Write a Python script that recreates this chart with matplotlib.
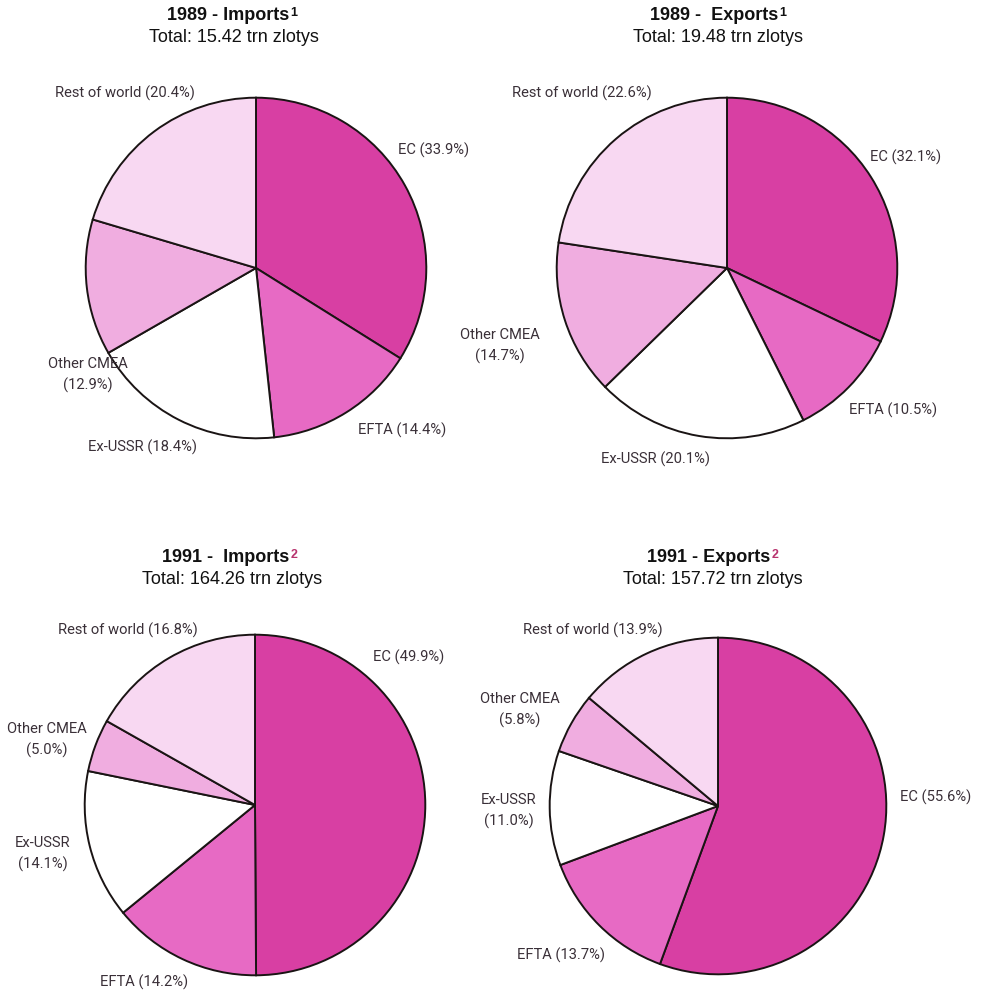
import matplotlib
matplotlib.use("Agg")
import matplotlib.pyplot as plt

# trade shares by partner group, clockwise from 12 o'clock
partners = ["EC", "EFTA", "Ex-USSR", "Other CMEA", "Rest of world"]
imports_1989 = [33.9, 14.4, 18.4, 12.9, 20.4]
exports_1989 = [32.1, 10.5, 20.1, 14.7, 22.6]
imports_1991 = [49.9, 14.2, 14.1, 5.0, 16.8]
exports_1991 = [55.6, 13.7, 11.0, 5.8, 13.9]

titles = ["1989 - Imports", "1989 -  Exports", "1991 -  Imports", "1991 - Exports"]
notes = ["1", "1", "2", "2"]
totals = ["Total: 15.42 trn zlotys", "Total: 19.48 trn zlotys",
          "Total: 164.26 trn zlotys", "Total: 157.72 trn zlotys"]

colours = ["#d83fa3", "#e76ac4", "#ffffff", "#f0ade0", "#f8d8f2"]
note_colours = ["#111111", "#111111", "#b8336e", "#b8336e"]

W, H = 992, 994
fig = plt.figure(figsize=(W / 100, H / 100), dpi=100)
fig.patch.set_facecolor("white")

label_font = ["Roboto", "DejaVu Sans"]
title_font = ["Liberation Sans", "DejaVu Sans"]
label_col = "#3a3038"

# pie centre / radius in pixels
pies = [(256, 268, 172), (727, 268, 172), (255, 805, 172), (718, 806, 170)]
title_x = [228, 714, 226, 709]
title_y = [15, 15, 557, 557]
total_x = [234, 718, 232, 713]

# label anchors (pixel x, pixel y, ha) per pie, in partner order
label_pos = [
    [(398, 150, "left"), (358, 430, "left"), (88, 447, "left"), (88, 375, "center"), (55, 93, "left")],
    [(870, 157, "left"), (849, 410, "left"), (601, 459, "left"), (500, 346, "center"), (512, 93, "left")],
    [(373, 657, "left"), (100, 982, "left"), (43, 854, "center"), (47, 740, "center"), (58, 630, "left")],
    [(900, 797, "left"), (517, 955, "left"), (509, 811, "center"), (520, 710, "center"), (523, 630, "left")],
]
two_line = [
    [False, False, False, True, False],
    [False, False, False, True, False],
    [False, False, True, True, False],
    [False, False, True, True, False],
]


def px(x, y):
    return x / W, 1 - y / H


for i, values in enumerate([imports_1989, exports_1989, imports_1991, exports_1991]):
    cx, cy, r = pies[i]
    ax = fig.add_axes([(cx - r) / W, 1 - (cy + r) / H, 2 * r / W, 2 * r / H])
    ax.pie(values, colors=colours, startangle=90, counterclock=False,
           wedgeprops=dict(edgecolor="#1a1414", linewidth=1.4))
    ax.set_xlim(-1.01, 1.01)
    ax.set_ylim(-1.01, 1.01)
    ax.set_aspect("equal")
    ax.axis("off")

    tx, ty = px(title_x[i], title_y[i])
    t = fig.text(tx, ty, titles[i], ha="center", va="center", fontsize=13,
                 fontweight="bold", family=title_font, color="#111111")
    # footnote marker after the title
    ax.annotate(notes[i], xy=(1.0, 0.95), xycoords=t, ha="left", va="top",
                xytext=(0.5, 0), textcoords="offset points",
                fontsize=9, fontweight="bold", family=title_font,
                color=note_colours[i], annotation_clip=False)
    tx, ty = px(total_x[i], title_y[i] + 23)
    fig.text(tx, ty, totals[i], ha="center", va="center", fontsize=13,
             family=title_font, color="#111111")

    for j, name in enumerate(partners):
        x, y, ha = label_pos[i][j]
        if two_line[i][j]:
            txt = f"{name}\n({values[j]:.1f}%)"
        else:
            txt = f"{name} ({values[j]:.1f}%)"
        lx, ly = px(x, y)
        fig.text(lx, ly, txt, ha=ha, va="center", fontsize=10.6,
                 family=label_font, color=label_col, linespacing=1.5)

fig.savefig("out.png", dpi=100)
